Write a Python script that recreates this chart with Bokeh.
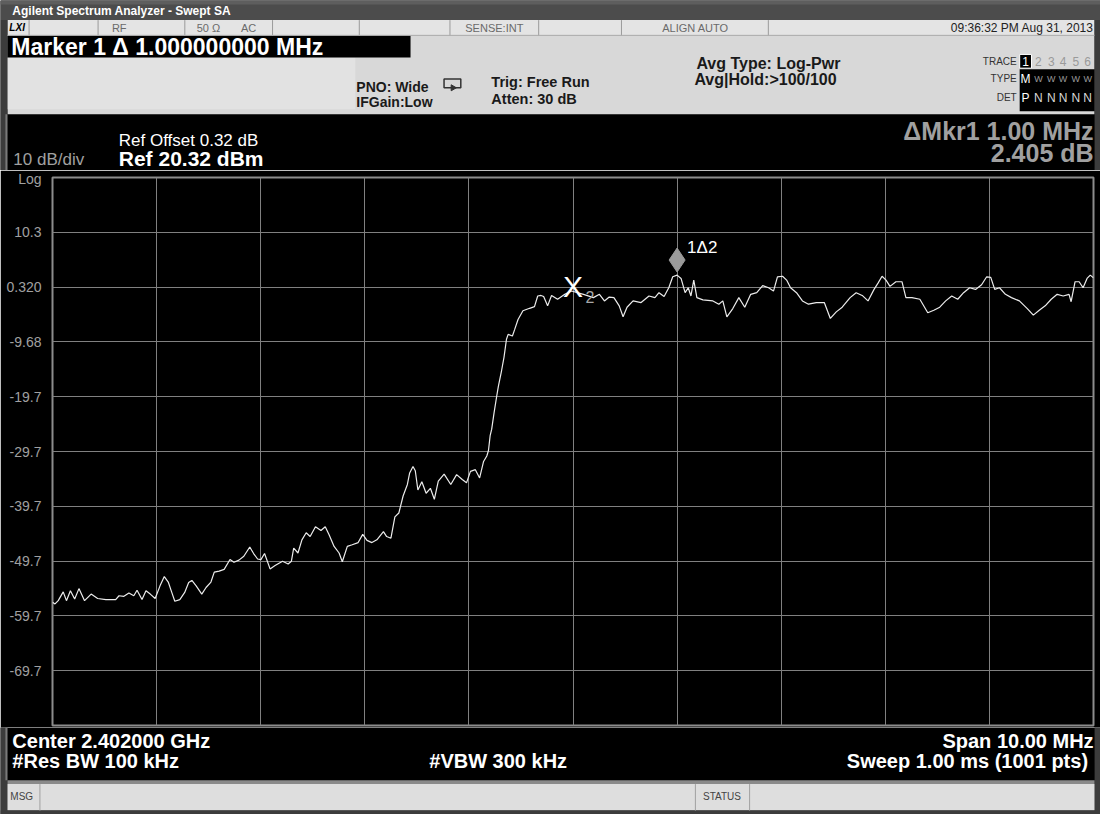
import math
from bokeh.plotting import figure
from bokeh.models import Range1d, FixedTicker
from bokeh.layouts import column
from bokeh.embed import file_html
from bokeh.resources import INLINE
from bokeh.core.properties import value

FONT = "Liberation Sans"

# ---------------- data ----------------
center_freq_mhz = 2402.0
span_mhz = 10.0
ref_level_dbm = 20.32
ref_offset_db = 0.32
scale_db_per_div = 10.0

trace_offset_mhz = [
    0.000, 0.024, 0.055, 0.103, 0.134, 0.172, 0.213, 0.254, 0.308, 0.371,
    0.434, 0.513, 0.607, 0.639, 0.686, 0.734, 0.781, 0.812, 0.860, 0.898,
    0.939, 0.986, 1.033, 1.074, 1.112, 1.144, 1.175, 1.223, 1.270, 1.308,
    1.339, 1.380, 1.434, 1.475, 1.522, 1.554, 1.601, 1.649, 1.705, 1.743,
    1.791, 1.838, 1.895, 1.932, 1.970, 2.002, 2.037, 2.090, 2.138, 2.210,
    2.264, 2.295, 2.317, 2.358, 2.396, 2.437, 2.475, 2.526, 2.579, 2.620,
    2.658, 2.705, 2.753, 2.784, 2.832, 2.879, 2.936, 2.980, 3.021, 3.068,
    3.116, 3.179, 3.210, 3.251, 3.289, 3.327, 3.368, 3.409, 3.431, 3.463,
    3.485, 3.510, 3.548, 3.589, 3.630, 3.668, 3.706, 3.762, 3.826, 3.882,
    3.936, 3.977, 4.015, 4.062, 4.103, 4.141, 4.172, 4.188, 4.204, 4.219,
    4.242, 4.267, 4.283, 4.314, 4.337, 4.361, 4.377, 4.418, 4.440, 4.472,
    4.519, 4.583, 4.630, 4.661, 4.693, 4.718, 4.756, 4.794, 4.852, 4.921,
    4.986, 5.101, 5.196, 5.254, 5.302, 5.348, 5.393, 5.444, 5.481, 5.519,
    5.577, 5.654, 5.730, 5.787, 5.826, 5.875, 5.920, 5.958, 6.000, 6.038,
    6.077, 6.107, 6.133, 6.160, 6.190, 6.248, 6.344, 6.401, 6.439, 6.478,
    6.535, 6.593, 6.650, 6.707, 6.765, 6.822, 6.879, 6.926, 6.964, 7.013,
    7.052, 7.090, 7.147, 7.204, 7.262, 7.337, 7.414, 7.472, 7.529, 7.586,
    7.662, 7.720, 7.778, 7.834, 7.892, 7.930, 7.969, 8.007, 8.045, 8.102,
    8.160, 8.198, 8.256, 8.332, 8.408, 8.466, 8.523, 8.580, 8.638, 8.696,
    8.752, 8.810, 8.867, 8.925, 8.974, 9.013, 9.051, 9.097, 9.154, 9.212,
    9.288, 9.364, 9.422, 9.479, 9.536, 9.594, 9.651, 9.709, 9.765, 9.785,
    9.823, 9.862, 9.900, 9.938, 9.969, 10.000,
]
trace_dbm = [
    -57.2, -57.5, -56.9, -55.3, -56.9, -55.1, -56.6, -54.7, -56.9, -55.7,
    -56.5, -56.7, -56.7, -56.0, -56.1, -55.5, -56.0, -55.0, -56.7, -55.1,
    -55.7, -56.5, -54.2, -52.5, -53.5, -55.3, -57.0, -56.7, -55.4, -53.6,
    -53.2, -54.2, -55.7, -54.5, -53.5, -51.7, -51.5, -51.2, -49.4, -49.9,
    -49.5, -48.8, -47.1, -48.3, -49.3, -49.4, -48.3, -51.1, -50.5, -49.7,
    -50.2, -49.7, -47.3, -48.2, -45.8, -44.5, -45.2, -43.4, -44.1, -43.4,
    -44.9, -47.0, -48.2, -49.8, -47.0, -46.7, -46.3, -44.8, -45.9, -46.3,
    -45.8, -44.3, -45.2, -45.5, -41.6, -40.9, -37.8, -35.7, -33.6, -32.4,
    -33.2, -36.7, -35.2, -37.3, -36.4, -38.4, -35.1, -33.8, -35.7, -33.9,
    -34.8, -35.4, -33.3, -33.0, -34.5, -31.5, -30.5, -29.5, -26.8, -25.6,
    -22.6, -19.6, -17.8, -14.9, -12.5, -9.2, -8.3, -8.6, -7.4, -5.6,
    -4.0, -3.55, -3.25, -1.3, -1.2, -1.4, -3.1, -1.2, -1.9, -1.0,
    -0.4, -1.0, -1.6, -1.0, -2.2, -1.5, -1.6, -3.1, -5.1, -3.35,
    -2.2, -2.5, -1.3, -1.6, -0.7, -1.4, 0.2, 2.2, 2.5, 1.9,
    -0.7, 0.2, -1.3, 1.6, -1.6, -2.0, -2.2, -2.8, -2.2, -5.1,
    -3.6, -1.6, -3.35, -1.0, -0.7, 0.6, 0.2, -0.4, 2.2, 2.3,
    1.6, 0.2, -0.7, -2.2, -2.8, -2.5, -2.5, -5.4, -4.2, -3.35,
    -1.6, -0.7, -1.2, -2.2, -0.1, 1.05, 2.3, 1.6, 0.45, 1.3,
    1.3, -1.6, -1.6, -1.9, -4.35, -3.9, -3.35, -2.2, -1.3, -1.9,
    -0.7, 0.2, -0.1, 0.75, 2.2, 2.1, -0.1, 0.2, -1.0, -1.6,
    -2.2, -3.6, -4.8, -3.9, -3.1, -1.9, -1.0, -1.3, -1.0, -2.35,
    1.3, 1.3, 0.2, 1.9, 2.5, 2.0,
]

ytick_labels = ["10.3", "0.320", "-9.68", "-19.7", "-29.7", "-39.7", "-49.7", "-59.7", "-69.7"]
scale_type_label = "Log"

marker_freq_mhz = [2402.0, 2403.0]
marker_dbm = [-0.3, 2.4]
marker_delta_db = 2.405
marker_delta_mhz = 1.0

# ---------------- derived ----------------
f_start = center_freq_mhz - span_mhz / 2
f_stop = center_freq_mhz + span_mhz / 2
y_top = ref_level_dbm
y_bot = ref_level_dbm - 10 * scale_db_per_div
freqs = [f_start + o for o in trace_offset_mhz]
ytick_dbm = [ref_level_dbm - k * scale_db_per_div for k in range(1, 10)]
xgrid_mhz = [f_start + k * span_mhz / 10 for k in range(1, 10)]

# layout: the whole 1116x830 screen drawn into 1100x814 px
W, H = 1100, 814
REF_W, REF_H = 1116.0, 830.0
SY = H / REF_H
TOP_H = 170          # px of the upper chrome figure
BOT_Y = 727          # px where the lower chrome figure starts
MAIN_H = BOT_Y - TOP_H
BOT_H = H - BOT_Y


def chrome_fig(h, y0_px):
    f = figure(width=W, height=h, x_range=Range1d(0, REF_W),
               y_range=Range1d((y0_px + h) / SY, y0_px / SY),
               output_backend="svg", toolbar_location=None, min_border=0,
               x_axis_location=None, y_axis_location=None,
               background_fill_color="black", border_fill_color="black",
               outline_line_color=None, frame_align=False)
    f.grid.visible = False
    return f


def txt(f, x, y, s, size, color, style="normal", align="left"):
    f.text(x=[x], y=[y], text=[s], text_font=value(FONT), text_font_size=size,
           text_color=color, text_font_style=style, text_align=align,
           text_baseline="middle")


def box(f, l, r, t, b, color, line=None, lw=1):
    f.quad(left=[l], right=[r], top=[t], bottom=[b], fill_color=color,
           line_color=line, line_width=lw)


# ---------------- upper chrome ----------------
top = chrome_fig(TOP_H, 0)
box(top, 0, 1116, 0, 20, "#4c4c4c")
box(top, 0, 1116, 0, 4, "#5e5e5e")
box(top, 7, 1110, 20, 36, "#e4e4e4")
box(top, 7, 1110, 36, 116, "#d8d8d8")
box(top, 7, 360, 58, 111, "#e2e2e2")
box(top, 7, 416, 36, 58, "black")
box(top, 0, 7, 20, 200, "#3c3c3c")
box(top, 1110, 1116, 20, 200, "#3c3c3c")
box(top, 5, 7, 116, 200, "#7a7a7a")
seps = [29, 99, 187, 276, 364, 456, 546, 630, 779]
top.segment(x0=seps, y0=[20] * len(seps), x1=seps, y1=[36] * len(seps),
            line_color="#9a9a9a", line_width=1)
top.segment(x0=[7], y0=[35.5], x1=[1110], y1=[35.5], line_color="#b0b0b0", line_width=1)

txt(top, 12, 11, "Agilent Spectrum Analyzer - Swept SA", "12px", "white", "bold")
txt(top, 9, 28, "LXI", "10px", "black", "bold italic")
txt(top, 113, 28, "RF", "11px", "#6a6a6a")
txt(top, 199, 28, "50 Ω", "11px", "#6a6a6a")
txt(top, 244, 28, "AC", "11px", "#6a6a6a")
txt(top, 501, 28, "SENSE:INT", "11px", "#6a6a6a", align="center")
txt(top, 705, 28, "ALIGN AUTO", "11px", "#6a6a6a", align="center")
txt(top, 1109, 28, "09:36:32 PM Aug 31, 2013", "12px", "#222222", align="right")

txt(top, 11, 47.5, "Marker 1 Δ 1.000000000 MHz", "23px", "white", "bold")
txt(top, 361, 88, "PNO: Wide", "14px", "#1a1a1a", "bold")
txt(top, 361, 104, "IFGain:Low", "14px", "#1a1a1a", "bold")
box(top, 450, 467, 80, 89, None, "#333333", 1.5)
top.scatter(x=[459], y=[89], marker="triangle", size=6, angle=-math.pi / 2,
            fill_color="#333333", line_color="#333333")
txt(top, 498, 83, "Trig: Free Run", "14.5px", "#1a1a1a", "bold")
txt(top, 498, 100, "Atten: 30 dB", "14.5px", "#1a1a1a", "bold")
txt(top, 706, 64, "Avg Type: Log-Pwr", "16px", "#1a1a1a", "bold")
txt(top, 704, 81, "Avg|Hold:>100/100", "16px", "#1a1a1a", "bold")

txt(top, 1031, 62, "TRACE", "10px", "#333333", align="right")
txt(top, 1031, 80, "TYPE", "10px", "#333333", align="right")
txt(top, 1031, 99, "DET", "10px", "#333333", align="right")
box(top, 1034, 1110, 70, 113, "black")
box(top, 1034, 1046, 55, 69, "black", "white", 1)
txt(top, 1040, 62, "1", "12px", "white", align="center")
cols = [1053, 1066, 1078, 1091, 1103]
for i, cx in enumerate(cols):
    txt(top, cx, 62, str(i + 2), "12px", "#9a9a9a", align="center")
    txt(top, cx, 80, "W", "9px", "#9a9a9a", align="center")
    txt(top, cx, 99, "N", "12px", "#d8d8d8", align="center")
txt(top, 1040, 80, "M", "12px", "white", align="center")
txt(top, 1040, 99, "P", "12px", "white", align="center")

txt(top, 13, 162, f"{scale_db_per_div:.0f} dB/div", "17px", "#a0a0a0")
txt(top, 120, 143, f"Ref Offset {ref_offset_db:.2f} dB", "17px", "white")
txt(top, 120, 161, f"Ref {ref_level_dbm:.2f} dBm", "21px", "white", "bold")
txt(top, 1109, 133, f"ΔMkr1 {marker_delta_mhz:.2f} MHz", "25px", "#a0a0a0", "bold", "right")
txt(top, 1109, 156, f"{marker_delta_db:.3f} dB", "25px", "#a0a0a0", "bold", "right")

# ---------------- main spectrum plot ----------------
p = figure(width=W, height=MAIN_H, x_range=Range1d(f_start, f_stop), y_range=Range1d(y_bot, y_top),
           output_backend="svg", toolbar_location=None,
           min_border_left=52, min_border_right=7, min_border_top=7, min_border_bottom=2,
           background_fill_color="black", border_fill_color="black", frame_align=False)
p.xaxis.visible = False
axis_ticks = [ref_level_dbm] + ytick_dbm
axis_labels = [scale_type_label] + ytick_labels
p.yaxis.ticker = FixedTicker(ticks=axis_ticks)
p.yaxis.major_label_overrides = {t: l for t, l in zip(axis_ticks, axis_labels)}
p.yaxis.axis_line_color = None
p.yaxis.major_tick_line_color = None
p.yaxis.minor_tick_line_color = None
p.yaxis.major_label_standoff = 5
p.yaxis.major_label_text_color = "#a0a0a0"
p.yaxis.major_label_text_font = FONT
p.yaxis.major_label_text_font_size = "14px"
p.xgrid.ticker = FixedTicker(ticks=xgrid_mhz)
p.ygrid.ticker = FixedTicker(ticks=ytick_dbm)
p.grid.grid_line_color = "#808080"
p.grid.grid_line_width = 1
p.outline_line_color = "#8c8c8c"
p.outline_line_width = 2

p.line(x=freqs, y=trace_dbm, line_color="#ececec", line_width=1.2)

p.text(x=[marker_freq_mhz[0]], y=[marker_dbm[0]], text=["X"], text_font=value(FONT),
       text_font_size="30px", text_color="white", text_align="center",
       text_baseline="middle", y_offset=-4)
p.text(x=[marker_freq_mhz[0]], y=[marker_dbm[0]], text=["2"], text_font=value(FONT),
       text_font_size="16px", text_color="#a8a8a8", text_align="center",
       text_baseline="middle", x_offset=17, y_offset=7)
lift_db = 16 * (10 * scale_db_per_div) / 560.0
p.scatter(x=[marker_freq_mhz[1]], y=[marker_dbm[1] + lift_db], marker="diamond", size=24,
          fill_color="#9a9a9a", line_color="#9a9a9a")
p.text(x=[marker_freq_mhz[1]], y=[marker_dbm[1]], text=["1Δ2"], text_font=value(FONT),
       text_font_size="17px", text_color="white", text_align="left",
       text_baseline="middle", x_offset=10, y_offset=-28)

# ---------------- lower chrome ----------------
bot = chrome_fig(BOT_H, BOT_Y)
box(bot, 0, 7, 700, 830, "#3c3c3c")
box(bot, 1110, 1116, 700, 830, "#3c3c3c")
box(bot, 5, 7, 700, 795, "#7a7a7a")
txt(bot, 12, 755, f"Center {center_freq_mhz / 1000:.6f} GHz", "20px", "white", "bold")
txt(bot, 12, 775, "#Res BW 100 kHz", "20px", "white", "bold")
txt(bot, 435, 775, "#VBW 300 kHz", "20px", "white", "bold")
txt(bot, 1109, 755, f"Span {span_mhz:.2f} MHz", "20px", "white", "bold", "right")
txt(bot, 1109, 775, "Sweep  1.00 ms (1001 pts)", "20px", "white", "bold", "right")
box(bot, 7, 1110, 795, 799, "#8a8a8a")
box(bot, 7, 1110, 799, 826, "#dedede")
box(bot, 0, 1116, 826, 830, "#3c3c3c")
bsep = [40, 705, 760]
bot.segment(x0=bsep, y0=[799] * 3, x1=bsep, y1=[826] * 3, line_color="#a0a0a0", line_width=1)
txt(bot, 10, 812, "MSG", "10px", "#444444")
txt(bot, 732, 812, "STATUS", "10px", "#444444", align="center")

layout = column(top, p, bot, spacing=0)
open("out.html", "w").write(file_html(layout, INLINE))
